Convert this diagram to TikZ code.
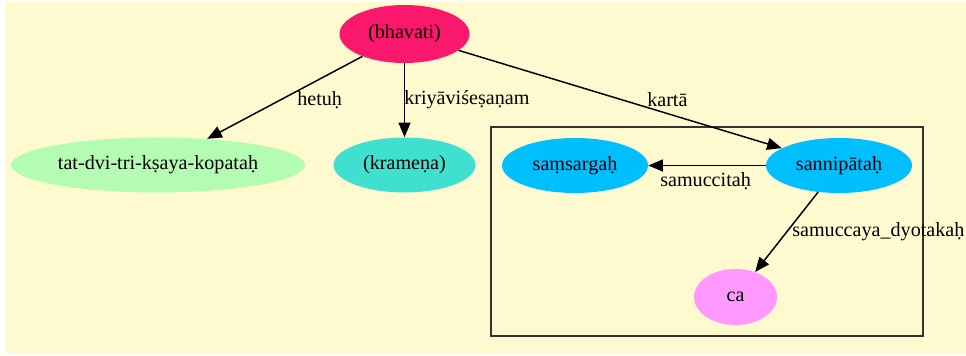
\documentclass[tikz,border=0pt]{standalone}
\usepackage{fontspec}
\setmainfont{Liberation Serif}
\usetikzlibrary{shapes.geometric,arrows.meta}
\definecolor{bgyellow}{RGB}{255,249,208}
\definecolor{pinkred}{RGB}{250,24,108}
\definecolor{lightgreen}{RGB}{180,252,180}
\definecolor{turq}{RGB}{64,224,208}
\definecolor{skyblue}{RGB}{0,191,255}
\definecolor{lilac}{RGB}{255,153,255}
\begin{document}
\begin{tikzpicture}[x=0.75pt,y=-0.75pt]
\tikzstyle{every node}=[font=\fontsize{15.1}{18}\selectfont];
\tikzstyle{word}=[ellipse,draw=none,inner sep=0pt,minimum height=41.25pt];
\tikzstyle{rel}=[draw=none,fill=none,inner sep=0pt,anchor=west];
\tikzstyle{link}=[line width=1.1pt,-{Triangle[length=11pt,width=9pt]}];

  \useasboundingbox (0,0) rectangle (966,356);
  \fill[bgyellow] (6,2) rectangle (966,354);

  % cluster
  \draw[line width=1pt,black!80] (491,127) rectangle (923,336);

  \node(bhavati)[word,fill=pinkred,minimum width=97.5pt,minimum height=43.5pt] at (404.5,34) {(bhavati)};
  \node(tat)[word,fill=lightgreen,minimum width=220.5pt] at (158,165) {tat-dvi-tri-kṣaya-kopataḥ};
  \node(kramena)[word,fill=turq,minimum width=106.5pt] at (404.5,165) {(krameṇa)};
  \node(samsargah)[word,fill=skyblue,minimum width=109.5pt] at (575,165.5) {saṃsargaḥ};
  \node(sannipatah)[word,fill=skyblue,minimum width=109.5pt] at (839,165.5) {sannipātaḥ};
  \node(ca)[word,fill=lilac,minimum width=62.25pt,minimum height=42pt] at (735.5,297) {ca};

  \path[link]
    (bhavati) edge (tat)
    (bhavati) edge (kramena)
    (bhavati) edge (sannipatah)
    (sannipatah) edge (samsargah)
    (sannipatah) edge (ca);

  \node(hetuh)[rel] at (297,100) {hetuḥ};
  \node(kriya)[rel] at (404,100) {kriyāviśeṣaṇam};
  \node(karta)[rel] at (647,100) {kartā};
  \node(samuccita)[rel] at (660,181) {samuccitaḥ};
  \node(dyotaka)[rel] at (792,232) {samuccaya\_dyotakaḥ};

\end{tikzpicture}
\end{document}
